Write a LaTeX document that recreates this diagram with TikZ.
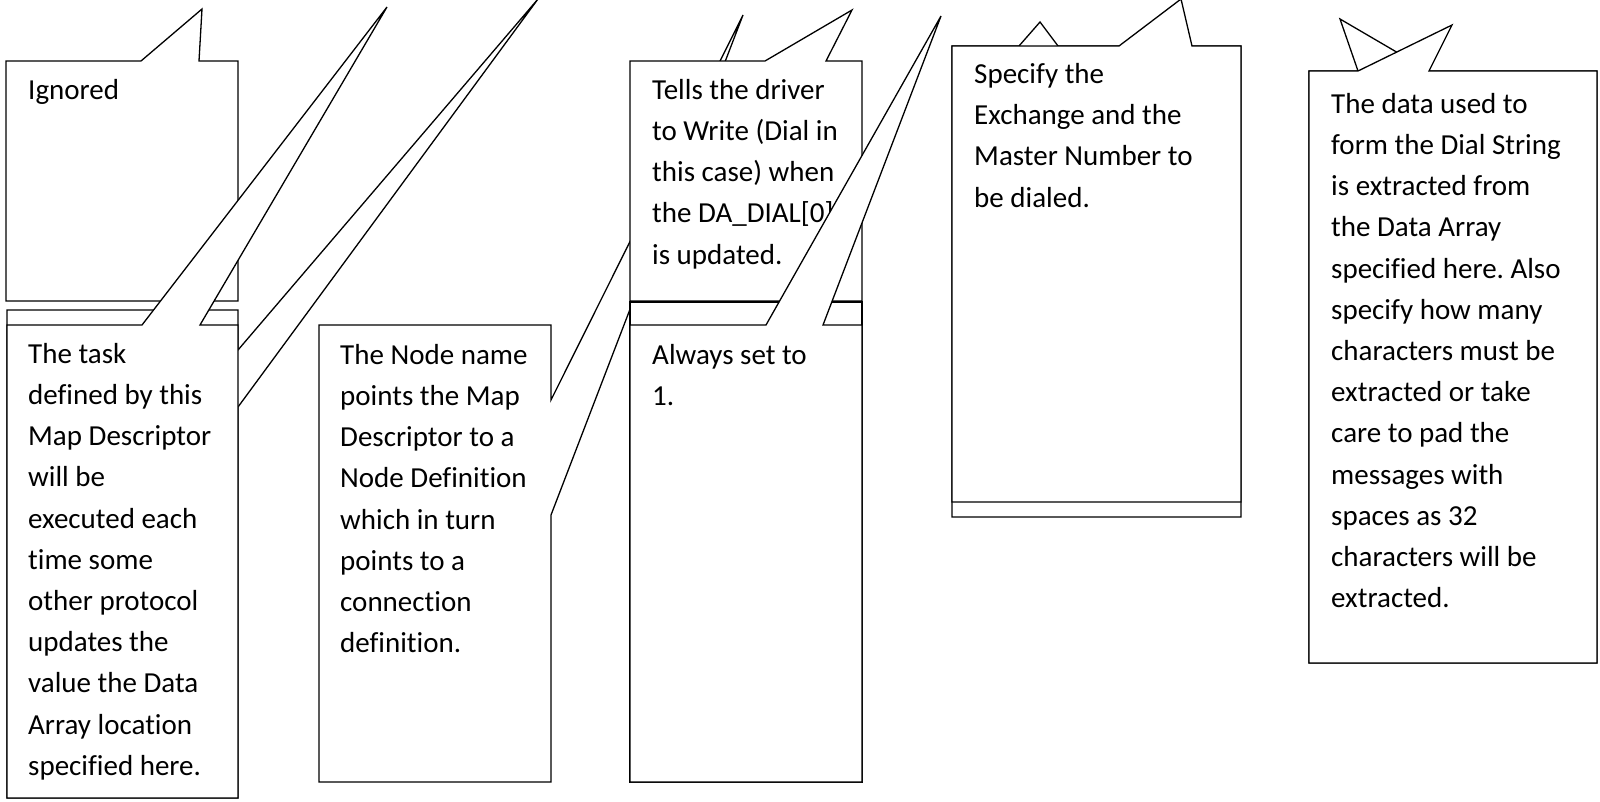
\documentclass[tikz,border=0pt]{standalone}
\usepackage{fontspec}
\setmainfont{Carlito}[Ligatures=NoCommon]
\frenchspacing
\tikzset{
	bubble/.style={draw, fill=white, line width=1.3pt, line join=miter},
	note/.style={anchor=north west, inner sep=0pt, align=left, font=\fontsize{29}{41.2}\selectfont}
}
\begin{document}
\begin{tikzpicture}[x=1pt, y=-1pt]
	\useasboundingbox (0, 0) rectangle (1600, 801);
	\clip (0, 0) rectangle (1600, 801);
	\draw[bubble] (6, 61) -- (141, 61) -- (202, 9) -- (199, 61) -- (238, 61) -- (238, 301) -- (6, 301) -- cycle;
	\node[note] at (28, 70.2) (ignored) {\strut Ignored};
	\draw[bubble] (7, 310) -- (238, 310) -- (238, 350) -- (538, -1) -- (238, 407) -- (238, 798) -- (7, 798) -- cycle;
	\draw[bubble] (7, 325) -- (142, 325) -- (387, 7) -- (200, 325) -- (238, 325) -- (238, 798) -- (7, 798) -- cycle;
	\node[note] at (28, 334.2) (task) {\strut The task\\defined by this\\Map Descriptor\\will be\\executed each\\time some\\other protocol\\updates the\\value the Data\\Array location\\specified here.};
	\draw[bubble] (319, 325) -- (551, 325) -- (551, 400) -- (743, 15) -- (551, 515) -- (551, 782) -- (319, 782) -- cycle;
	\node[note] at (340, 335.2) (nodename) {\strut The Node name\\points the Map\\Descriptor to a\\Node Definition\\which in turn\\points to a\\connection\\definition.};
	\draw[bubble] (630, 61) -- (765, 61) -- (852, 10) -- (826, 61) -- (862, 61) -- (862, 301) -- (630, 301) -- cycle;
	\node[note] at (652, 70.2) (tells) {\strut Tells the driver\\to Write (Dial in\\this case) when\\the DA\_DIAL[0]\\is updated.};
	\draw[bubble] (630, 302) -- (862, 302) -- (862, 782) -- (630, 782) -- cycle;
	\draw[bubble] (630, 325) -- (766, 325) -- (941, 16) -- (823, 325) -- (862, 325) -- (862, 782) -- (630, 782) -- cycle;
	\node[note] at (652, 335.2) (always) {\strut Always set to\\1.};
	\draw[bubble] (952, 46) -- (1019, 46) -- (1040, 22) -- (1058, 46) -- (1241, 46) -- (1241, 517) -- (952, 517) -- cycle;
	\draw[bubble] (952, 46) -- (1119, 46) -- (1181, -1) -- (1192, 46) -- (1241, 46) -- (1241, 502) -- (952, 502) -- cycle;
	\node[note] at (974, 54.5) (specify) {\strut Specify the\\Exchange and the\\Master Number to\\be dialed.};
	\draw[bubble] (1309, 71) -- (1358, 71) -- (1340, 19) -- (1429, 71) -- (1597, 71) -- (1597, 663) -- (1309, 663) -- cycle;
	\draw[bubble] (1309, 71) -- (1358, 71) -- (1452, 25) -- (1429, 71) -- (1597, 71) -- (1597, 663) -- (1309, 663) -- cycle;
	\node[note] at (1331, 84.2) (dialdata) {\strut The data used to\\form the Dial String\\is extracted from\\the Data Array\\specified here. Also\\specify how many\\characters must be\\extracted or take\\care to pad the\\messages with\\spaces as 32\\characters will be\\extracted.};
\end{tikzpicture}
\end{document}
